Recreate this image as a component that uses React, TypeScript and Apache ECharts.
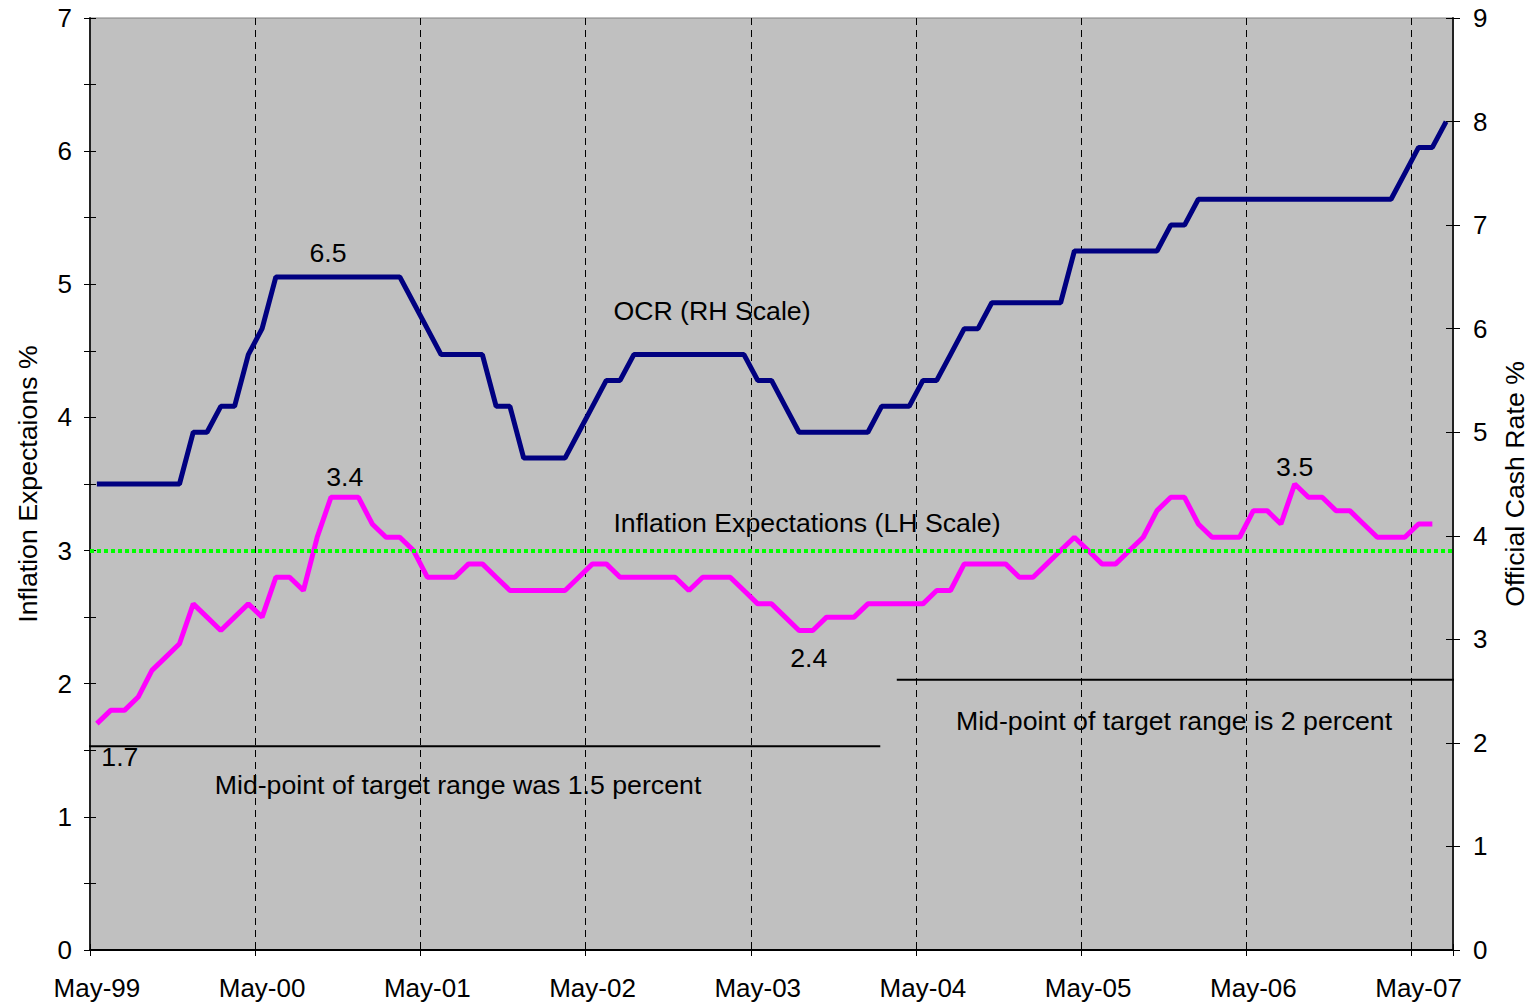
import React, { useEffect, useRef } from "react";
import * as echarts from "echarts";

const MONTHS = ["Jan", "Feb", "Mar", "Apr", "May", "Jun", "Jul", "Aug", "Sep", "Oct", "Nov", "Dec"];
// Monthly categories May-99 .. Jul-07
const categories: string[] = [];
for (let k = 0; k < 99; k++) {
  const m = (4 + k) % 12;
  const y = (1999 + Math.floor((4 + k) / 12)) % 100;
  categories.push(MONTHS[m] + "-" + String(y).padStart(2, "0"));
}

const inflationExpectations: (number | null)[] = [
  1.7, 1.8, 1.8, 1.9, 2.1, 2.2, 2.3, 2.6, 2.5, 2.4, 2.5, 2.6,
  2.5, 2.8, 2.8, 2.7, 3.1, 3.4, 3.4, 3.4, 3.2, 3.1, 3.1, 3.0,
  2.8, 2.8, 2.8, 2.9, 2.9, 2.8, 2.7, 2.7, 2.7, 2.7, 2.7, 2.8,
  2.9, 2.9, 2.8, 2.8, 2.8, 2.8, 2.8, 2.7, 2.8, 2.8, 2.8, 2.7,
  2.6, 2.6, 2.5, 2.4, 2.4, 2.5, 2.5, 2.5, 2.6, 2.6, 2.6, 2.6,
  2.6, 2.7, 2.7, 2.9, 2.9, 2.9, 2.9, 2.8, 2.8, 2.9, 3.0, 3.1,
  3.0, 2.9, 2.9, 3.0, 3.1, 3.3, 3.4, 3.4, 3.2, 3.1, 3.1, 3.1,
  3.3, 3.3, 3.2, 3.5, 3.4, 3.4, 3.3, 3.3, 3.2, 3.1, 3.1, 3.1,
  3.2, 3.2, null,
];

const ocr: number[] = [
  4.5, 4.5, 4.5, 4.5, 4.5, 4.5, 4.5, 5.0, 5.0, 5.25, 5.25, 5.75,
  6.0, 6.5, 6.5, 6.5, 6.5, 6.5, 6.5, 6.5, 6.5, 6.5, 6.5, 6.25,
  6.0, 5.75, 5.75, 5.75, 5.75, 5.25, 5.25, 4.75, 4.75, 4.75, 4.75, 5.0,
  5.25, 5.5, 5.5, 5.75, 5.75, 5.75, 5.75, 5.75, 5.75, 5.75, 5.75, 5.75,
  5.5, 5.5, 5.25, 5.0, 5.0, 5.0, 5.0, 5.0, 5.0, 5.25, 5.25, 5.25,
  5.5, 5.5, 5.75, 6.0, 6.0, 6.25, 6.25, 6.25, 6.25, 6.25, 6.25, 6.75,
  6.75, 6.75, 6.75, 6.75, 6.75, 6.75, 7.0, 7.0, 7.25, 7.25, 7.25, 7.25,
  7.25, 7.25, 7.25, 7.25, 7.25, 7.25, 7.25, 7.25, 7.25, 7.25, 7.25, 7.5,
  7.75, 7.75, 8.0,
];

const leftTickLabels = [0, 1, 2, 3, 4, 5, 6, 7];
const rightTickLabels = [0, 1, 2, 3, 4, 5, 6, 7, 8, 9];

const inflationTarget = 3; // green dotted reference
// target mid-point lines: value and span in months since start of May-99
const oldMidpointValue = 1.53;
const oldMidpointSpan = [-0.15, 57.4];
const newMidpointValue = 2.03;
const newMidpointSpan = [58.6, 99.1];

// labelled points: [index, position, distance, offsetX]
const inflationLabels: [number, string, number, number][] = [
  [0, "bottom", 20, 23],
  [18, "top", 7, 0],
  [52, "bottom", 14, -4],
  [87, "top", 4, 0],
];
const ocrLabels: [number, string, number, number][] = [[17, "top", 10, -3]];

const FONT = "'Liberation Sans', Arial, Helvetica, sans-serif";
const FS = 26.7;
const TFS = 26;

function withLabels(values: (number | null)[], labels: [number, string, number, number][]) {
  return values.map((v, i) => {
    const l = labels.find((x) => x[0] === i);
    if (!l || v == null) return v;
    return {
      value: v,
      label: {
        show: true,
        position: l[1],
        distance: l[2],
        offset: [l[3], 0],
        formatter: String(v),
        color: "#000",
        fontSize: FS,
        fontFamily: FONT,
      },
    };
  });
}

const mayOnly = (idx: number) => idx % 12 === 0;

export default function App() {
  const ref = useRef<HTMLDivElement>(null);
  useEffect(() => {
    document.body.style.margin = "0";
    const chart = echarts.init(ref.current!, undefined, { renderer: "svg" });
    const option: any = {
      animation: false,
      backgroundColor: "#ffffff",
      textStyle: { fontFamily: FONT },
      grid: {
        left: 90,
        right: 78,
        top: 18,
        bottom: 57,
        containLabel: false,
        outerBoundsMode: "none",
        show: true,
        backgroundColor: "#c0c0c0",
        borderColor: "#808080",
        borderWidth: 1,
      },
      xAxis: [
        {
          type: "category",
          data: categories,
          boundaryGap: true,
          axisLine: { show: true, lineStyle: { color: "#000", width: 2 } },
          axisTick: { show: true, interval: mayOnly, length: 6, lineStyle: { color: "#000" } },
          axisLabel: {
            interval: mayOnly,
            margin: 25,
            color: "#000",
            fontSize: TFS,
            fontFamily: FONT,
          },
          splitLine: {
            show: true,
            interval: mayOnly,
            lineStyle: { color: "#000", width: 1, type: [7, 5] },
          },
        },
        {
          type: "category",
          data: categories,
          boundaryGap: true,
          position: "bottom",
          axisLine: { show: false },
          axisTick: { show: true, inside: true, interval: mayOnly, length: 6, lineStyle: { color: "#000" } },
          axisLabel: { show: false },
          splitLine: { show: false },
        },
        {
          type: "value",
          position: "bottom",
          min: 0,
          max: 99,
          show: false,
        },
      ],
      yAxis: [
        {
          type: "value",
          position: "left",
          min: 0,
          max: 7,
          interval: 0.5,
          name: "Inflation Expectaions %",
          nameLocation: "middle",
          nameGap: 49,
          nameTextStyle: { color: "#000", fontSize: FS, fontFamily: FONT },
          axisLine: { show: true, lineStyle: { color: "#222", width: 2 } },
          axisTick: { show: true, length: 6, lineStyle: { color: "#000" } },
          axisLabel: {
            margin: 18,
            color: "#000",
            fontSize: TFS,
            fontFamily: FONT,
            formatter: (v: number) => (leftTickLabels.includes(v) ? String(v) : ""),
          },
          splitLine: { show: false },
        },
        {
          type: "value",
          position: "right",
          min: 0,
          max: 9,
          interval: 1,
          name: "Official Cash Rate %",
          nameLocation: "middle",
          nameGap: 48,
          nameTextStyle: { color: "#000", fontSize: FS, fontFamily: FONT },
          axisLine: { show: true, lineStyle: { color: "#222", width: 2 } },
          axisTick: { show: true, length: 7, lineStyle: { color: "#000" } },
          axisLabel: {
            margin: 20,
            color: "#000",
            fontSize: TFS,
            fontFamily: FONT,
            formatter: (v: number) => (rightTickLabels.includes(v) ? String(v) : ""),
          },
          splitLine: { show: false },
        },
        {
          type: "value",
          position: "left",
          min: 0,
          max: 7,
          interval: 0.5,
          axisLine: { show: false },
          axisTick: { show: true, inside: true, length: 6, lineStyle: { color: "#000" } },
          axisLabel: { show: false },
          splitLine: { show: false },
        },
        {
          type: "value",
          position: "right",
          min: 0,
          max: 9,
          interval: 1,
          axisLine: { show: false },
          axisTick: { show: true, inside: true, length: 7, lineStyle: { color: "#000" } },
          axisLabel: { show: false },
          splitLine: { show: false },
        },
      ],
      series: [
        {
          name: "OCR (RH Scale)",
          type: "line",
          xAxisIndex: 0,
          yAxisIndex: 1,
          data: withLabels(ocr, ocrLabels),
          showSymbol: true,
          showAllSymbol: true,
          symbol: "circle",
          symbolSize: 0,
          lineStyle: { color: "#000080", width: 5 },
          itemStyle: { color: "#000080" },
          z: 3,
        },
        {
          name: "Inflation Expectations (LH Scale)",
          type: "line",
          xAxisIndex: 0,
          yAxisIndex: 0,
          data: withLabels(inflationExpectations, inflationLabels),
          showSymbol: true,
          showAllSymbol: true,
          symbol: "circle",
          symbolSize: 0,
          lineStyle: { color: "#ff00ff", width: 5 },
          itemStyle: { color: "#ff00ff" },
          z: 4,
          markLine: {
            silent: true,
            symbol: "none",
            label: { show: false },
            data: [
              { yAxis: inflationTarget, lineStyle: { color: "#00ff00", width: 4, type: [4, 3] } },
            ],
          },
        },
        {
          name: "oldMidpoint",
          type: "line",
          xAxisIndex: 2,
          yAxisIndex: 0,
          clip: false,
          symbol: "none",
          data: oldMidpointSpan.map((x) => [x, oldMidpointValue]),
          lineStyle: { color: "#000", width: 2 },
          z: 2,
        },
        {
          name: "newMidpoint",
          type: "line",
          xAxisIndex: 2,
          yAxisIndex: 0,
          clip: false,
          symbol: "none",
          data: newMidpointSpan.map((x) => [x, newMidpointValue]),
          lineStyle: { color: "#000", width: 2 },
          z: 2,
        },
      ],
      graphic: [
        { type: "text", x: 712, y: 311, z: 10, style: { text: "OCR (RH Scale)", fill: "#000", font: `${FS}px ${FONT}`, textAlign: "center", textVerticalAlign: "middle" } },
        { type: "text", x: 807, y: 523, z: 10, style: { text: "Inflation Expectations (LH Scale)", fill: "#000", font: `${FS}px ${FONT}`, textAlign: "center", textVerticalAlign: "middle" } },
        { type: "text", x: 458, y: 785, z: 10, style: { text: "Mid-point of target range was 1.5 percent", fill: "#000", font: `${FS}px ${FONT}`, textAlign: "center", textVerticalAlign: "middle" } },
        { type: "text", x: 1174, y: 721, z: 10, style: { text: "Mid-point of target range is 2 percent", fill: "#000", font: `${FS}px ${FONT}`, textAlign: "center", textVerticalAlign: "middle" } },
      ],
    };
    chart.setOption(option);
    return () => chart.dispose();
  }, []);
  return (
    <div
      ref={ref}
      style={{ position: "fixed", left: 0, top: 0, width: 1531, height: 1007 }}
    />
  );
}
